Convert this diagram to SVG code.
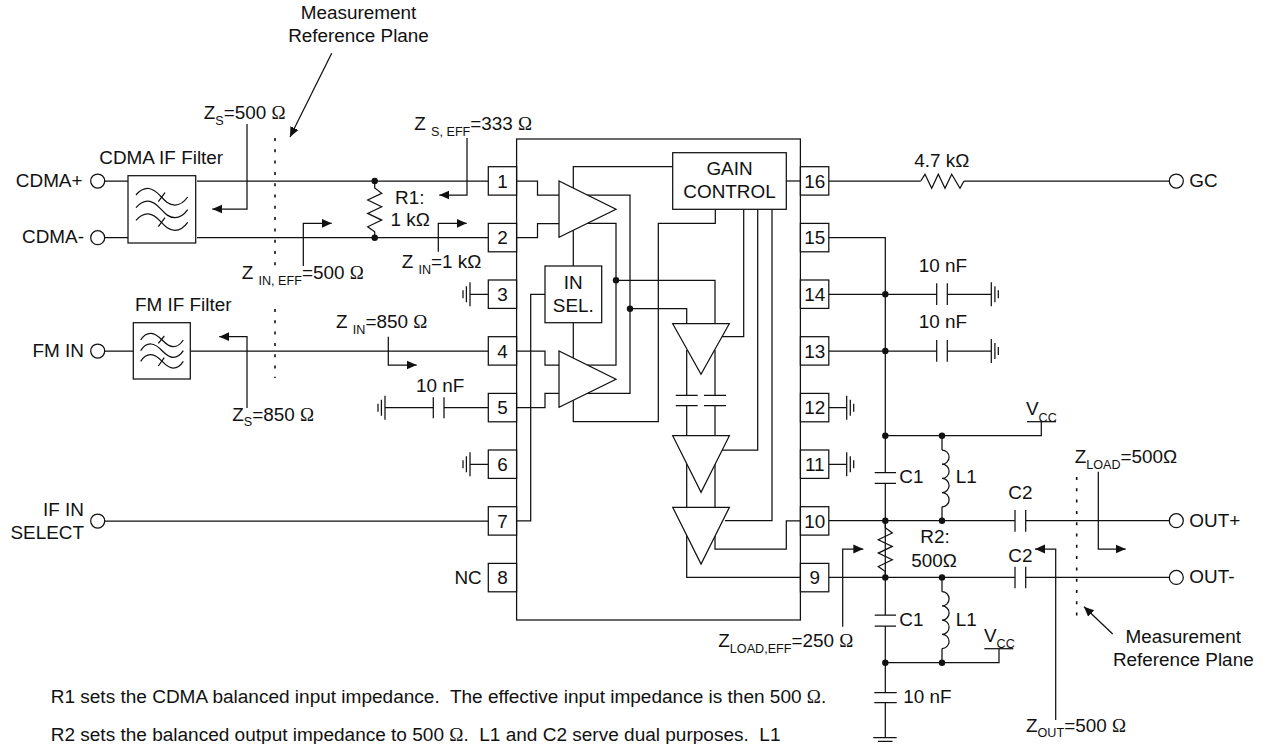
<svg xmlns="http://www.w3.org/2000/svg" width="1263" height="744" viewBox="0 0 1263 744">
<style>
text{font-family:"Liberation Sans",Arial,sans-serif;font-size:18.9px;fill:#111;white-space:pre}
.m{text-anchor:middle}.e{text-anchor:end}
.sub{font-size:12.6px}
.body{font-size:19.02px}
.o{font-family:"Liberation Serif","Times New Roman",serif}
path,line,rect,polygon,circle,polyline{stroke:#111;stroke-width:1.25;fill:none}
.box{fill:#fff}
.dot{fill:#111;stroke:none}
.term{fill:#fff}
.dots{stroke-width:1.6;stroke-dasharray:3 8.3}
.arr{marker-end:url(#ah)}
</style>
<defs>
<marker id="ah" markerUnits="userSpaceOnUse" markerWidth="12" markerHeight="10" refX="10" refY="5" orient="auto"><path d="M0 .5L10 5L0 9.500Z" style="fill:#111;stroke:none"/></marker>
<g id="gl"><path d="M0 -12V12M-3.600 -8V8M-7 -4V4"/></g>
<g id="gr"><path d="M0 -12V12M3.600 -8V8M7 -4V4"/></g>
<path id="fc" d="M136 195Q142 188 148.500 188.500C160 189.500 163 205 175 205Q182 205 187.700 197"/>
<path id="ff" d="M140.700 340Q145 333 151 333.300C161 334 164 346.700 173.300 346.700Q179 346.700 183.300 340"/>
<path id="tri" d="M0 0H56.700L28.350 56.700Z" style="fill:#fff"/>
<path id="ind" d="M0 0a7.100 7.100 0 0 1 0 14.200a7.100 7.100 0 0 1 0 14.200a7.100 7.100 0 0 1 0 14.200a7.100 7.100 0 0 1 0 14.200"/>
<path id="rv" d="M0 0V7L7 12.300L-7 19L7 25.700L-7 32.400L7 39.100L-7 45.800L0 50.800V56.700"/>
</defs>

<g id="chip"><rect x="516.600" y="139" width="283.800" height="481"/></g>

<g id="connectors">
<path d="M104.700 181H128M197 181H488M104.700 237.700H128M197 237.700H488M104.700 351H133.300M190.300 351H488M104.700 521H488"/>
<path d="M470 294.300H488M470 464.300H488M433.300 407.700H385M444 407.700H488"/>
<path class="dots" d="M275 138V266M275 309V378M1076.700 477V617"/>
<path d="M331.700 53.300L290 137" class="arr"/>
<path d="M1112.700 634L1084 606.700" class="arr"/>
<path d="M247 124V209H212.300" class="arr"/>
<path d="M467 138V195H439.300" class="arr"/>
<path d="M303.300 266V223.300H331.700" class="arr"/>
<path d="M438.300 251.700V223.300H466.700" class="arr"/>
<path d="M388.300 336.700V365H416.700" class="arr"/>
<path d="M247 408V336.700H219.300" class="arr"/>
<path d="M842.700 626.700V549H863.300" class="arr"/>
<path d="M1098.300 471.700V549H1125.700" class="arr"/>
<path d="M1055.700 720V549H1035" class="arr"/>
<path d="M516.600 181H537.500V195H559M516.600 237.700H537.500V223.500H559M516.600 351H545V365H559M516.600 407.700H545V393.300H559"/>
<path d="M672.700 166.700H573.300V358"/>
<path d="M587 195H630V393.300H587M587 223.300H616V365H587"/>
<path d="M573.300 400V421.700H658.300V223.300H715.300V209.300"/>
<path d="M516.600 520.800H530.700V294.300H545"/>
<path d="M616 280.300H715V323.700M630 308.700H686.700V323.700"/>
<path d="M722 336.700H743.700V209.300M722 450H757.700V209.300M725 520.700H772V209.300"/>
<path d="M686.700 350V395.300M686.700 405.700V507.300M715 350V395.300M715 405.700V507.300"/>
<path d="M715 530V549H786.300V520.800H800.400M686.700 530V577.400H800.400"/>
<path d="M786.300 181H800.400"/>
<path d="M829 181H920.700M964 181H1169"/>
<path d="M829 237.700H885.300V472.700M885.300 483.300V615M885.300 626V692.700M885.300 702.700V737.700"/>
<path d="M829 294.300H936.700M947.300 294.300H991.300M829 351H936.700M947.300 351H991.300"/>
<path d="M829 407.700H846.700M829 464.300H846.700"/>
<path d="M885.300 435.700H1041.300V421.700M885.300 662.700H999V648.700"/>
<path d="M942 435.700V450M942 506.800V520.700M942 577.400V591.700M942 648.500V662.700"/>
<path d="M829 520.700H1015M1025.700 520.700H1169M829 577.400H1015M1025.700 577.400H1169"/>
</g>

<g id="amp-1"><polygon class="box" points="559,181 559,237.300 616,209.300"/></g>
<g id="amp-2"><polygon class="box" points="559,351 559,407.300 616,379.300"/></g>
<g id="amp-3"><polygon class="box" points="672.700,323.700 729.300,323.700 701,374.300"/></g>
<g id="amp-4"><use href="#tri" x="672.700" y="435.700"/></g>
<g id="amp-5"><use href="#tri" x="672.700" y="507.300"/></g>

<g id="gain-control"><rect class="box" x="672.700" y="152.700" width="113.600" height="56.600"/><text class="m" x="729.500" y="175">GAIN</text><text class="m" x="729.500" y="197.700">CONTROL</text></g>
<g id="in-sel"><rect class="box" x="545" y="266" width="56.700" height="56.700"/><text class="m" x="573.300" y="289">IN</text><text class="m" x="573.300" y="311.500">SEL.</text></g>

<g id="internal-caps"><path d="M675.700 395.300H697.700M675.700 405.700H697.700M704 395.300H726M704 405.700H726"/></g>
<g id="junctions">
<circle class="dot" cx="616" cy="280.300" r="3.200"/><circle class="dot" cx="630" cy="308.700" r="3.200"/>
<circle class="dot" cx="374.700" cy="181" r="3.200"/><circle class="dot" cx="374.700" cy="237.700" r="3.200"/>
<circle class="dot" cx="885.300" cy="294.300" r="3.200"/><circle class="dot" cx="885.300" cy="351" r="3.200"/>
<circle class="dot" cx="885.300" cy="435.700" r="3.200"/><circle class="dot" cx="942" cy="435.700" r="3.200"/>
<circle class="dot" cx="885.300" cy="520.700" r="3.200"/><circle class="dot" cx="942" cy="520.700" r="3.200"/>
<circle class="dot" cx="885.300" cy="577.400" r="3.200"/><circle class="dot" cx="942" cy="577.400" r="3.200"/>
<circle class="dot" cx="885.300" cy="662.700" r="3.200"/><circle class="dot" cx="942" cy="662.700" r="3.200"/>
</g>

<g id="pin-1"><rect x="488.300" y="166.700" width="28.300" height="28.400"/><text class="m" x="502.500" y="187.700">1</text></g>
<g id="pin-2"><rect x="488.300" y="223.400" width="28.300" height="28.400"/><text class="m" x="502.500" y="244.400">2</text></g>
<g id="pin-3"><rect x="488.300" y="280" width="28.300" height="28.400"/><text class="m" x="502.500" y="301">3</text></g>
<g id="pin-4"><rect x="488.300" y="336.700" width="28.300" height="28.400"/><text class="m" x="502.500" y="357.700">4</text></g>
<g id="pin-5"><rect x="488.300" y="393.400" width="28.300" height="28.400"/><text class="m" x="502.500" y="414.400">5</text></g>
<g id="pin-6"><rect x="488.300" y="450" width="28.300" height="28.400"/><text class="m" x="502.500" y="471">6</text></g>
<g id="pin-7"><rect x="488.300" y="506.700" width="28.300" height="28.400"/><text class="m" x="502.500" y="527.700">7</text></g>
<g id="pin-8"><rect x="488.300" y="563.400" width="28.300" height="28.400"/><text class="m" x="502.500" y="584.400">8</text></g>
<g id="pin-16"><rect x="800.400" y="166.700" width="28.400" height="28.400"/><text class="m" x="814.800" y="187.700">16</text></g>
<g id="pin-15"><rect x="800.400" y="223.400" width="28.400" height="28.400"/><text class="m" x="814.800" y="244.400">15</text></g>
<g id="pin-14"><rect x="800.400" y="280" width="28.400" height="28.400"/><text class="m" x="814.800" y="301">14</text></g>
<g id="pin-13"><rect x="800.400" y="336.700" width="28.400" height="28.400"/><text class="m" x="814.800" y="357.700">13</text></g>
<g id="pin-12"><rect x="800.400" y="393.400" width="28.400" height="28.400"/><text class="m" x="814.800" y="414.400">12</text></g>
<g id="pin-11"><rect x="800.400" y="450" width="28.400" height="28.400"/><text class="m" x="814.800" y="471">11</text></g>
<g id="pin-10"><rect x="800.400" y="506.700" width="28.400" height="28.400"/><text class="m" x="814.800" y="527.700">10</text></g>
<g id="pin-9"><rect x="800.400" y="563.400" width="28.400" height="28.400"/><text class="m" x="814.800" y="584.400">9</text></g>

<g id="cdma-filter"><rect x="128" y="175.700" width="67.700" height="67.300"/>
<use href="#fc"/><use href="#fc" y="12.700"/><use href="#fc" y="25.400"/>
<path d="M158.300 201.700L165 192.700M158.300 226.700L165 217.700"/>
<text x="99.300" y="164">CDMA IF Filter</text></g>
<g id="fm-filter"><rect x="133.300" y="322.700" width="57" height="56.300"/>
<use href="#ff"/><use href="#ff" y="10.700"/><use href="#ff" y="21.400"/>
<path d="M158.300 343.300L164.300 336M158.300 366L164.300 357.700"/>
<text x="135" y="310.700">FM IF Filter</text></g>

<g id="term-cdma-plus"><circle class="term" cx="97.700" cy="181" r="7"/><text class="e" x="82.500" y="186.700">CDMA+</text></g>
<g id="term-cdma-minus"><circle class="term" cx="97.700" cy="237.700" r="7"/><text class="e" x="84" y="243">CDMA-</text></g>
<g id="term-fm-in"><circle class="term" cx="97.700" cy="351" r="7"/><text class="e" x="84" y="356.700">FM IN</text></g>
<g id="term-if-in"><circle class="term" cx="97.700" cy="521" r="7"/><text class="e" x="84" y="515.500">IF IN</text><text class="e" x="84" y="538.500">SELECT</text></g>
<g id="nc"><text class="e" x="481.700" y="584">NC</text></g>
<g id="term-gc"><circle class="term" cx="1176.300" cy="181" r="7"/><text x="1189.300" y="186.700">GC</text></g>
<g id="term-out-plus"><circle class="term" cx="1176.300" cy="520.700" r="7"/><text x="1189.300" y="526.700">OUT+</text></g>
<g id="term-out-minus"><circle class="term" cx="1176.300" cy="577.400" r="7"/><text x="1189.300" y="583.300">OUT-</text></g>

<g id="r1"><use href="#rv" x="374.700" y="181"/><text x="395" y="204">R1:</text><text x="390.500" y="225.700">1 kΩ</text></g>
<g id="r2"><use href="#rv" x="885.300" y="520.700"/><text x="920.300" y="543.300">R2:</text><text x="911.300" y="566.700">500Ω</text></g>
<g id="r-gc"><path d="M920.700 181L925 174.300L931.700 188.300L938.300 174.300L945 188.300L951.700 174.300L960 188.300L964 181"/><text x="914.300" y="166.700">4.7 kΩ</text></g>

<g id="c-left"><path d="M433.300 397.300V418.300M444 397.300V418.300"/><use href="#gl" x="385" y="407.700"/><text x="416" y="391.700">10 nF</text></g>
<g id="gnd-3"><use href="#gl" x="470" y="294.300"/></g>
<g id="gnd-6"><use href="#gl" x="470" y="464.300"/></g>
<g id="gnd-12"><use href="#gr" x="846.700" y="407.700"/></g>
<g id="gnd-11"><use href="#gr" x="846.700" y="464.300"/></g>
<g id="c-14"><path d="M936.700 283.300V305M947.300 283.300V305"/><use href="#gr" x="991.300" y="294.300"/><text x="918.700" y="272.300">10 nF</text></g>
<g id="c-13"><path d="M936.700 340V361.700M947.300 340V361.700"/><use href="#gr" x="991.300" y="351"/><text x="918.700" y="328.300">10 nF</text></g>
<g id="c1-top"><path d="M874.700 472.700H896M874.700 483.300H896"/><text x="899.300" y="483.300">C1</text></g>
<g id="l1-top"><use href="#ind" x="942" y="450"/><text x="955.700" y="483.300">L1</text></g>
<g id="c1-bottom"><path d="M874.700 615H896M874.700 626H896"/><text x="899.300" y="625.700">C1</text></g>
<g id="l1-bottom"><use href="#ind" x="942" y="591.700"/><text x="955.700" y="625.700">L1</text></g>
<g id="c2-top"><path d="M1015 510V531.700M1025.700 510V531.700"/><text x="1008.300" y="498.700">C2</text></g>
<g id="c2-bottom"><path d="M1015 566.700V588.300M1025.700 566.700V588.300"/><text x="1008.300" y="561.700">C2</text></g>
<g id="c-bottom"><path d="M874.300 692.700H896.700M874.300 702.700H896.700"/><text x="903.300" y="703.300">10 nF</text></g>
<g id="gnd-bottom"><path d="M873.300 737.700H896.700M878 741.300H892.500M882 744.500H888.500"/></g>
<g id="vcc-top"><path d="M1027 421.700H1056"/><text x="1026" y="415">V<tspan class="sub" dy="6.500">CC</tspan></text></g>
<g id="vcc-bottom"><path d="M984.300 648.700H1013.300"/><text x="984" y="641.500">V<tspan class="sub" dy="6.500">CC</tspan></text></g>

<g id="labels">
<text class="m" x="358.500" y="19.300">Measurement</text><text class="m" x="358.500" y="41.700">Reference Plane</text>
<text class="m" x="1183.300" y="642.700">Measurement</text><text class="m" x="1183.300" y="665.700">Reference Plane</text>
<text x="203.700" y="119.300">Z<tspan class="sub" dy="5.500">S</tspan><tspan dy="-5.500">=500 </tspan><tspan class="o">Ω</tspan></text>
<text x="414.300" y="130">Z <tspan class="sub" dy="5.500">S, EFF</tspan><tspan dy="-5.500">=333 </tspan><tspan class="o">Ω</tspan></text>
<text x="241.700" y="279.300">Z <tspan class="sub" dy="5.500">IN, EFF</tspan><tspan dy="-5.500">=500 </tspan><tspan class="o">Ω</tspan></text>
<text x="401.700" y="268.300">Z <tspan class="sub" dy="5.500">IN</tspan><tspan dy="-5.500">=1 kΩ</tspan></text>
<text x="336" y="328.300">Z <tspan class="sub" dy="5.500">IN</tspan><tspan dy="-5.500">=850 </tspan><tspan class="o">Ω</tspan></text>
<text x="232.300" y="420.700">Z<tspan class="sub" dy="5.500">S</tspan><tspan dy="-5.500">=850 </tspan><tspan class="o">Ω</tspan></text>
<text x="718.300" y="646.700">Z<tspan class="sub" dy="6">LOAD,EFF</tspan><tspan dy="-6">=250 </tspan><tspan class="o">Ω</tspan></text>
<text x="1074.700" y="462.700">Z<tspan class="sub" dy="6">LOAD</tspan><tspan dy="-6">=500Ω</tspan></text>
<text x="1026" y="731.700">Z<tspan class="sub" dy="5.500">OUT</tspan><tspan dy="-5.500">=500 </tspan><tspan class="o">Ω</tspan></text>
<text class="body" x="50.700" y="703.300">R1 sets the CDMA balanced input impedance.  The effective input impedance is then 500 <tspan class="o">Ω</tspan>.</text>
<text class="body" x="50.700" y="741">R2 sets the balanced output impedance to 500 <tspan class="o">Ω</tspan>.  L1 and C2 serve dual purposes.  L1</text>
</g>
</svg>
